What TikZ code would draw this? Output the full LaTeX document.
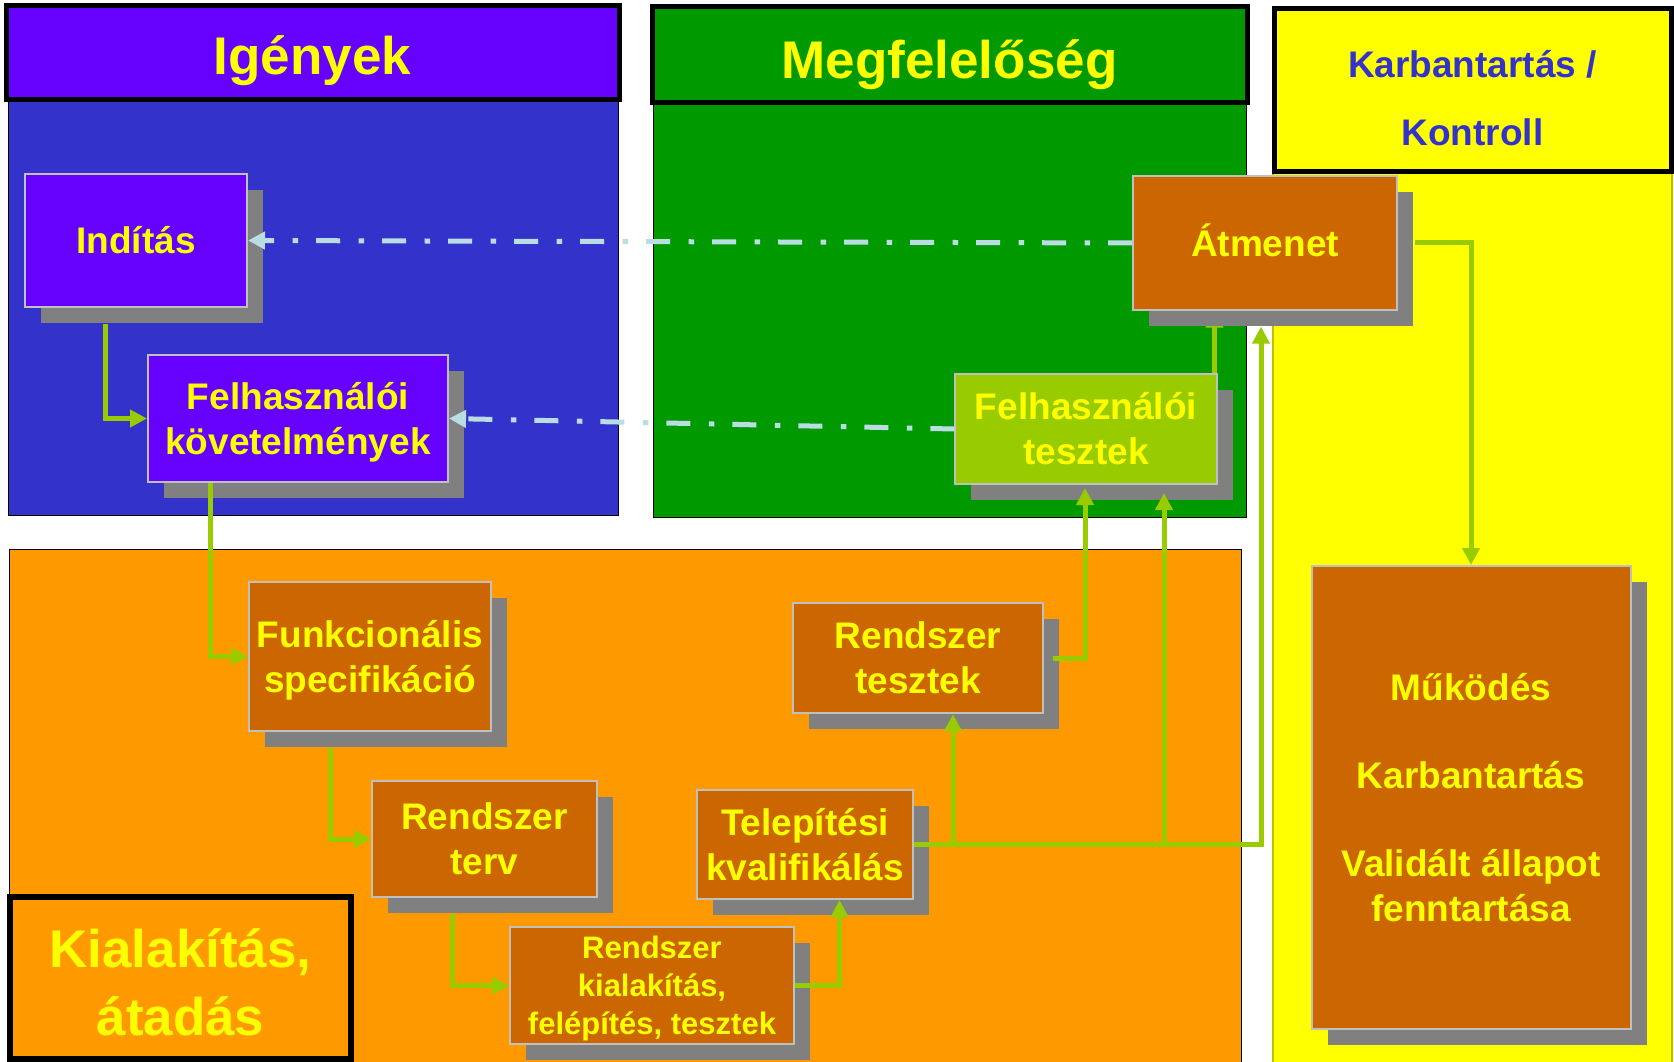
\documentclass[tikz,border=0pt]{standalone}
\usepackage{fontspec}
\setmainfont{Liberation Sans}
\usetikzlibrary{calc,arrows.meta,shadows}

\definecolor{hdrviolet}{HTML}{6600FF}
\definecolor{panelblue}{HTML}{3333CC}
\definecolor{confgreen}{HTML}{009900}
\definecolor{ctrlyellow}{HTML}{FFFF00}
\definecolor{ctrledge}{HTML}{BFBF00}
\definecolor{buildorange}{HTML}{FF9900}
\definecolor{stepbrown}{HTML}{CC6600}
\definecolor{lime}{HTML}{99CC00}
\definecolor{shade}{HTML}{808080}
\definecolor{boxedge}{HTML}{C0C0C0}
\definecolor{txtyellow}{HTML}{FFFF00}
\definecolor{dashblue}{HTML}{B9DDE3}

\pgfdeclarelayer{panels}
\pgfdeclarelayer{under}
\pgfsetlayers{panels,under,main}

\begin{document}
\begin{tikzpicture}[x=0.75pt,y=-0.75pt,
  header/.style={draw=black,line width=3.75pt},
  % text height = cap height of the first line + the baselines below it,
  % so that each label is centred between its first cap line and last baseline
  stepbox/.style={draw=boxedge,line width=1.5pt,align=center,text=txtyellow,
    inner sep=0pt,text height=19.87pt,text depth=0pt,
    font=\fontsize{27.75pt}{33.75pt}\selectfont\bfseries,
    general shadow={fill=shade,shadow xshift=12pt,shadow yshift=-12pt}},
  twolines/.style={text height=53.62pt},
  headtext/.style={text=txtyellow,align=center,inner sep=0pt,
    text height=28.46pt,text depth=0pt,
    font=\fontsize{39.75pt}{51pt}\selectfont\bfseries},
  flow/.style={draw=lime,line width=3.75pt,
    -{Triangle[length=12.75pt,width=12.75pt]}},
  backlink/.style={draw=dashblue,line width=3.75pt,
    dash pattern=on 18pt off 13.5pt on 4.1pt off 13.9pt,
    -{Triangle[length=12.75pt,width=12.75pt]}},
]
\useasboundingbox (0,0) rectangle (1674,1062);

% ---- panels and column headers ----
\begin{pgfonlayer}{panels}
  \fill[white] (0,0) rectangle (1674,1062);
  \draw[fill=panelblue,line width=0.75pt] (8,100) rectangle (618,515);
  \draw[fill=confgreen,line width=0.75pt] (653,103) rectangle (1246,517);
  \draw[fill=ctrlyellow,draw=ctrledge,line width=1pt] (1273,172) rectangle (1672,1075);
  \draw[fill=buildorange,line width=0.75pt] (9,549) rectangle (1241,1075);
  \draw[header,fill=hdrviolet] (6,6) rectangle (619,100);
  \draw[header,fill=confgreen] (652,7) rectangle (1247,103);
  \draw[header,fill=ctrlyellow] (1274,9) rectangle (1671.5,172);
  \draw[header,fill=buildorange,line width=4.5pt] (10,897) rectangle (351,1059);
\end{pgfonlayer}

\node[headtext] (needs) at (312.5,56) {Igények};
\node[headtext] (conformity) at (949.5,59.5) {Megfelelőség};
\node[headtext,text height=79.46pt] (buildhdr) at (180.5,982.2) {Kialakítás,\\átadás};
\node[headtext,text=panelblue,text height=70.87pt,
  font=\fontsize{27.75pt}{51pt}\selectfont\bfseries] (ctrlhdr) at (1472.5,98.25)
  {Karbantartás /\\Kontroll};

% ---- process steps ----
\node[stepbox,fill=hdrviolet,minimum width=166.5pt,minimum height=99.75pt]
  (start) at (136,240.5) {Indítás};
\node[stepbox,twolines,fill=hdrviolet,minimum width=225pt,minimum height=95.25pt]
  (userreq) at (298,418.5) {Felhasználói\\követelmények};
\node[stepbox,twolines,fill=stepbrown,minimum width=181pt,minimum height=111.75pt]
  (funcspec) at (370,656.5) {Funkcionális\\specifikáció};
\node[stepbox,twolines,fill=stepbrown,minimum width=168.75pt,minimum height=87pt]
  (design) at (484.5,839) {Rendszer\\terv};
\node[stepbox,fill=stepbrown,minimum width=212.6pt,minimum height=87.4pt,
  text height=73.6pt,font=\fontsize{23.25pt}{28.5pt}\selectfont\bfseries]
  (build) at (652,985.75) {Rendszer\\kialakítás,\\felépítés, tesztek};
\node[stepbox,twolines,fill=stepbrown,minimum width=161.6pt,minimum height=81.75pt]
  (iq) at (805,844.5) {Telepítési\\kvalifikálás};
\node[stepbox,twolines,fill=stepbrown,minimum width=187pt,minimum height=82.9pt]
  (systest) at (918,658) {Rendszer\\tesztek};
\node[stepbox,twolines,fill=lime,minimum width=196pt,minimum height=82.5pt]
  (usertest) at (1086,429) {Felhasználói\\tesztek};
\node[stepbox,fill=stepbrown,minimum width=198pt,minimum height=100pt]
  (transition) at (1265,243) {Átmenet};
\node[stepbox,fill=stepbrown,minimum width=239.25pt,minimum height=347.6pt,
  text height=185.12pt]
  (operation) at (1471,797.75)
  {Működés\\[32pt]Karbantartás\\[32pt]Validált állapot\\fenntartása};

% ---- connectors ----
\begin{pgfonlayer}{under}
  \draw[flow] ($(usertest.north)+(128.5,0)$) -- ($(transition.south)+(-50.5,0)$);
\end{pgfonlayer}

\draw[flow] ($(start.south)+(-31,16)$) |- (userreq.west);
\draw[flow] ($(userreq.south)+(-88,0)$) |- (funcspec.west);
\draw[flow] ($(funcspec.south)+(-40,16)$) |- (design.west);
\draw[flow] ($(design.south)+(-32.5,16)$) |- (build.west);
\draw[flow] (build.east) -| ($(iq.south)+(34.5,0)$);
\draw[flow] (iq.east) -| ($(systest.south)+(35,0)$);
\draw[flow] (iq.east) -| ($(usertest.south)+(78,8)$);
\draw[flow] (iq.east) -| ($(transition.south)+(-4,16)$);
\draw[flow] ($(systest.east)+(9,0)$) -| ($(usertest.south)+(-1,3)$);
\draw[flow] ($(transition.east)+(17,0)$) -| (operation.north);

\draw[backlink] (transition.west) -- (start.east);
\draw[backlink] (usertest.west) -- (userreq.east);
\end{tikzpicture}
\end{document}
